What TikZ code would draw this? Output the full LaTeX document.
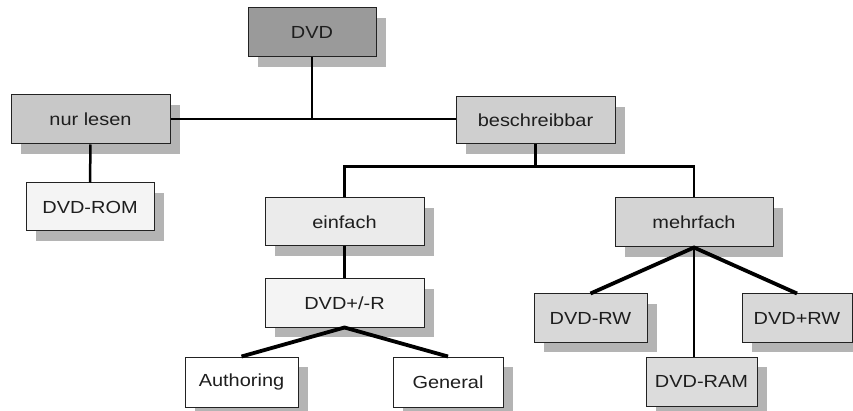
\documentclass[tikz,border=0pt]{standalone}
\usepackage{fontspec}
\setmainfont[FakeStretch=1.14]{Liberation Sans}
\usetikzlibrary{shadows}
\definecolor{shadowgray}{HTML}{B4B4B4}
\definecolor{boxline}{HTML}{222222}
\definecolor{txt}{HTML}{1E1E1E}
\tikzset{
  box/.style={draw=boxline, line width=1pt, inner sep=0pt, text=txt,
    font=\fontsize{17.5}{20}\selectfont,
    drop shadow={shadow xshift=10pt, shadow yshift=-10pt, fill=shadowgray, opacity=1}},
  conn/.style={line width=2.5pt, draw=black},
  thick conn/.style={line width=3.8pt, draw=black},
}
\begin{document}
\begin{tikzpicture}[x=1pt, y=-1pt]
\useasboundingbox (0,0) rectangle (853,411);
\fill[white] (0,0) rectangle (853,411);

\node[box, fill={rgb,255:red,154;green,154;blue,154}, minimum width=128pt, minimum height=49pt] (dvd) at (312,32.5) {DVD};
\node[box, fill={rgb,255:red,200;green,200;blue,200}, minimum width=159pt, minimum height=49pt] (nur) at (90.5,119.5) {nur lesen};
\node[box, fill={rgb,255:red,207;green,207;blue,207}, minimum width=159pt, minimum height=47pt] (besch) at (535.5,120.5) {beschreibbar};
\node[box, fill={rgb,255:red,244;green,244;blue,244}, minimum width=128pt, minimum height=48pt] (rom) at (90,207) {DVD-ROM};
\node[box, fill={rgb,255:red,235;green,235;blue,235}, minimum width=159pt, minimum height=48pt] (einf) at (344.5,222) {einfach};
\node[box, fill={rgb,255:red,212;green,212;blue,212}, minimum width=158pt, minimum height=49pt] (mehr) at (694,222.5) {mehrfach};
\node[box, fill={rgb,255:red,244;green,244;blue,244}, minimum width=159pt, minimum height=48pt] (pmr) at (344.5,303) {DVD+/-R};
\node[box, fill={rgb,255:red,216;green,216;blue,216}, minimum width=113pt, minimum height=48pt] (rw) at (590.5,318) {DVD-RW};
\node[box, fill={rgb,255:red,216;green,216;blue,216}, minimum width=110pt, minimum height=48pt] (prw) at (797,318) {DVD+RW};
\node[box, fill={rgb,255:red,220;green,220;blue,220}, minimum width=111pt, minimum height=49pt] (ram) at (701.5,381.5) {DVD-RAM};
\node[box, fill=white, minimum width=113pt, minimum height=50pt] (auth) at (241.5,382) {Authoring};
\node[box, fill=white, minimum width=110pt, minimum height=50pt] (gen) at (448,382) {General};

\coordinate (hl) at (nur.east |- 0,119);
\coordinate (hr) at (besch.west |- 0,119);
\draw[conn] (hl) -- (hr);
\draw[conn] (dvd.south) -- (dvd.south |- hl);
\draw[conn] (nur.south) -- (rom.north);
\coordinate (bj) at (besch.south |- 0,166.5);
\coordinate (bl) at (einf.north |- bj);
\coordinate (br) at (mehr.north |- bj);
\draw[conn] (besch.south) -- (bj);
\draw[conn] (einf.north) -- (bl) -- (br) -- (mehr.north);
\draw[conn] (einf.south) -- (pmr.north);
\draw[thick conn] (auth.north) -- (pmr.south) -- (gen.north);
\draw[thick conn] (rw.north) -- (mehr.south) -- (prw.north);
\draw[conn] (mehr.south) -- (mehr.south |- ram.north);
\end{tikzpicture}
\end{document}
